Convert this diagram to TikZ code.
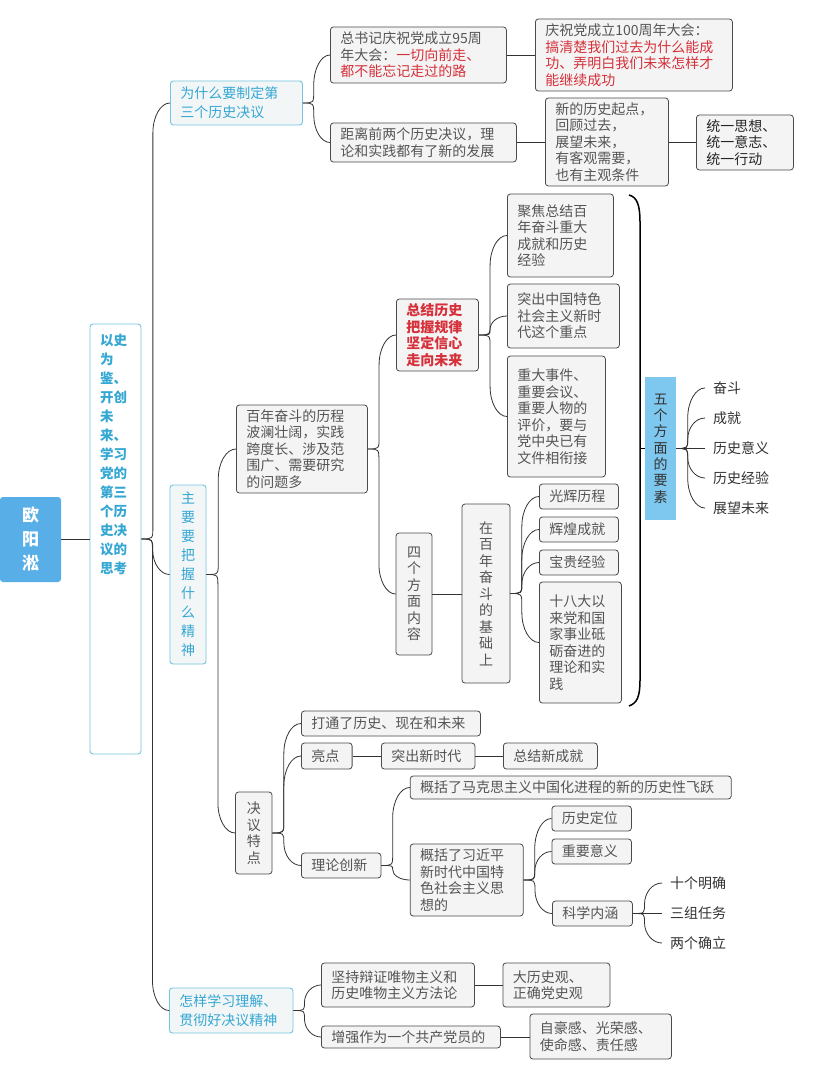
\documentclass[tikz,border=0pt]{standalone}
\usepackage{fontspec}
\setmainfont{Noto Sans CJK SC}
\usetikzlibrary{calc}
\definecolor{gborder}{HTML}{4A4A4A}
\definecolor{gfill}{HTML}{F4F4F4}
\definecolor{gtext}{HTML}{555555}
\definecolor{redC}{HTML}{D6303A}
\definecolor{tborder}{HTML}{74C6E0}
\definecolor{tfill}{HTML}{F3F6F7}
\definecolor{ttext}{HTML}{35A7D3}
\definecolor{rootC}{HTML}{58AEE6}
\definecolor{fiveC}{HTML}{7EC7EF}
\definecolor{lineC}{HTML}{333333}
\definecolor{leafC}{HTML}{333333}
\tikzset{
 conn/.style={draw=lineC, line width=0.8pt},
 cn/.style={to path={let \p1=(\tikztostart), \p2=(\tikztotarget),
   \n1={((\y2)-(\y1))*min(0.3,12/abs((\y2)-(\y1)))},
   \n3={((\y2)-(\y1))*min(0.7,30/abs((\y2)-(\y1)))},
   \n2={(\x1)+0.4*((\x2)-(\x1))} in
   (\p1) .. controls ({\n2},{\y1}) .. ({\n2},{(\y1)+(\n1)}) -- ({\n2},{(\y2)-(\n3)})
   .. controls ({\n2},{(\y2)-0.45*(\n3)}) and ({(\n2)+0.45*((\x2)-(\n2))},{\y2}) .. (\p2)}},
 gb/.style={draw=gborder, fill=gfill, rounded corners=3pt, line width=0.8pt, text=gtext, align=left, inner xsep=10pt, inner ysep=0pt, anchor=west, font=\fontsize{14}{16.5}\selectfont},
 tb/.style={draw=tborder, fill=tfill, rounded corners=3pt, line width=0.9pt, text=ttext, align=left, inner xsep=10pt, inner ysep=0pt, anchor=west, font=\fontsize{14}{19}\selectfont},
 vb/.style={draw=gborder, fill=gfill, rounded corners=3pt, line width=0.8pt, text=gtext, align=center, inner sep=0pt, font=\fontsize{14}{16.5}\selectfont},
 leaf/.style={anchor=west, inner xsep=8pt, inner ysep=0pt, text=leafC, font=\fontsize{14}{16}\selectfont},
}
\begin{document}
\begin{tikzpicture}[x=1pt,y=-1pt]
\useasboundingbox (0,0) rectangle (821,1089);
\fill[white] (0,0) rectangle (821,1089);

% root and main topic
\node[fill=rootC, rounded corners=3pt, text=white, align=center, inner sep=0pt, minimum width=61pt, minimum height=85pt, font=\fontsize{17}{24}\selectfont\bfseries] (root) at (30.5,539.5) {欧\\阳\\淞};
\node[draw=tborder, fill=white, rounded corners=3pt, line width=0.9pt, text=ttext, inner xsep=10pt, inner ysep=10pt] (main) at (115.5,539)
 {\parbox[c][410pt][t]{31pt}{\fontsize{13.5}{19}\selectfont\bfseries 以史\\为\\鉴、\\开创\\未\\来、\\学习\\党的\\第三\\个历\\史决\\议的\\思考}};

% branch 1
\node[tb, text width=112pt, minimum height=44pt] (w1) at (170,103) {为什么要制定第\\三个历史决议};
\node[gb, text width=156pt, minimum height=56pt] (a1) at (330,55) {总书记庆祝党成立95周\\年大会：\textcolor{redC}{一切向前走、}\\\textcolor{redC}{都不能忘记走过的路}};
\node[gb, text width=166pt, minimum height=39pt] (a2) at (330,142.5) {距离前两个历史决议，理\\论和实践都有了新的发展};
\node[gb, text width=177pt, minimum height=72pt] (a11) at (535,55) {庆祝党成立100周年大会：\\\textcolor{redC}{搞清楚我们过去为什么能成}\\\textcolor{redC}{功、弄明白我们未来怎样才}\\\textcolor{redC}{能继续成功}};
\node[gb, text width=103pt, minimum height=88pt] (a21) at (545,142) {新的历史起点，\\回顾过去，\\展望未来，\\有客观需要，\\也有主观条件};
\node[gb, text width=77pt, minimum height=55pt, text=black!85] (a22) at (696,142.5) {统一思想、\\统一意志、\\统一行动};

% branch 2
\node[tb, align=center, anchor=center, inner sep=0pt, minimum width=36pt, minimum height=179pt] (w2) at (188,574.5) {主\\要\\要\\把\\握\\什\\么\\精\\神};
\node[gb, text width=111pt, minimum height=88pt] (b1) at (236,449) {百年奋斗的历程\\波澜壮阔，实践\\跨度长、涉及范\\围广、需要研究\\的问题多};
\node[gb, text width=62pt, minimum height=72pt, text=redC, font=\fontsize{14}{16.5}\selectfont\bfseries] (b11) at (396,335) {总结历史\\把握规律\\坚定信心\\走向未来};
\node[gb, text width=86pt, minimum height=83pt] (c1) at (507,235.5) {聚焦总结百\\年奋斗重大\\成就和历史\\经验};
\node[gb, text width=92pt, minimum height=64pt] (c2) at (507,316) {突出中国特色\\社会主义新时\\代这个重点};
\node[gb, text width=78pt, minimum height=121pt] (c3) at (507,416.5) {重大事件、\\重要会议、\\重要人物的\\评价，要与\\党中央已有\\文件相衔接};
\node[vb, minimum width=36pt, minimum height=122pt] (b12) at (414,594) {四\\个\\方\\面\\内\\容};
\node[vb, minimum width=48pt, minimum height=179pt] (d1) at (486,593.5) {在\\百\\年\\奋\\斗\\的\\基\\础\\上};
\node[gb, text width=59pt, minimum height=25pt] (e1) at (539,496.5) {光辉历程};
\node[gb, text width=59pt, minimum height=25pt] (e2) at (539,529.5) {辉煌成就};
\node[gb, text width=59pt, minimum height=25pt] (e3) at (539,562.5) {宝贵经验};
\node[gb, text width=62pt, minimum height=121pt] (e4) at (539,642.5) {十八大以\\来党和国\\家事业砥\\砺奋进的\\理论和实\\践};

% bracket and five elements
\coordinate (brk) at (640,448.5);
\node[fill=fiveC, text=leafC, align=center, inner sep=0pt, minimum width=31pt, minimum height=143pt, font=\fontsize{14}{16.3}\selectfont] (fv) at (660.5,448.5) {五\\个\\方\\面\\的\\要\\素};
\draw[line width=1.5pt, black] (629,195) .. controls (637,197) and (640,205) .. (640,222) -- (640,680) .. controls (640,697) and (637,703) .. (629,706);
\draw[line width=1.5pt, black] (brk) -- (fv.west);
\node[leaf] (f1) at (705,388) {奋斗};
\node[leaf] (f2) at (705,418) {成就};
\node[leaf] (f3) at (705,448.5) {历史意义};
\node[leaf] (f4) at (705,478) {历史经验};
\node[leaf] (f5) at (705,508) {展望未来};

% decision features
\node[vb, minimum width=36.5pt, minimum height=82pt] (b2) at (253.75,833) {决\\议\\特\\点};
\node[gb, text width=159pt, minimum height=25pt] (g1) at (301,723.5) {打通了历史、现在和未来};
\node[gb, text width=30.7pt, minimum height=26pt] (g2) at (301,756) {亮点};
\node[gb, text width=73.5pt, minimum height=26pt] (g21) at (381,756) {突出新时代};
\node[gb, text width=74pt, minimum height=26pt] (g22) at (503,756) {总结新成就};
\node[gb, text width=59.5pt, minimum height=25pt] (g3) at (301,865.5) {理论创新};
\node[gb, text width=301pt, minimum height=23pt] (h1) at (409.8,787.5) {概括了马克思主义中国化进程的新的历史性飞跃};
\node[gb, text width=93pt, minimum height=72pt] (h2) at (409.8,880) {概括了习近平\\新时代中国特\\色社会主义思\\想的};
\node[gb, text width=59.5pt, minimum height=25pt] (i1) at (551.5,818.5) {历史定位};
\node[gb, text width=59.5pt, minimum height=25pt] (i2) at (551.5,851.5) {重要意义};
\node[gb, text width=60pt, minimum height=25pt] (i3) at (552,913.5) {科学内涵};
\node[leaf] (j1) at (662,883) {十个明确};
\node[leaf] (j2) at (662,913.5) {三组任务};
\node[leaf] (j3) at (662,943) {两个确立};

% branch 3
\node[tb, text width=103.5pt, minimum height=45pt] (w3) at (169,1010.5) {怎样学习理解、\\贯彻好决议精神};
\node[gb, text width=133pt, minimum height=44pt] (k1) at (321,985) {坚持辩证唯物主义和\\历史唯物主义方法论};
\node[gb, text width=87pt, minimum height=44pt] (k11) at (502.5,985) {大历史观、\\正确党史观};
\node[gb, text width=159pt, minimum height=22pt] (k2) at (321,1037) {增强作为一个共产党员的};
\node[gb, text width=121.5pt, minimum height=45pt] (k21) at (529.5,1036.5) {自豪感、光荣感、\\使命感、责任感};

% connectors
\begin{scope}[conn]
\draw (root.east) -- (root.east -| main.west);
\draw (main.east) to[cn] (w1.west);
\draw (main.east) to[cn] (w2.west);
\draw (main.east) to[cn] (w3.west);
\draw (w1.east) to[cn] (a1.west);
\draw (w1.east) to[cn] (a2.west);
\draw (a1.east) -- (a1.east -| a11.west);
\draw (a2.east) -- (a2.east -| a21.west);
\draw (a21.east) -- (a21.east -| a22.west);
\draw (w2.east) to[cn] (b1.west);
\draw (w2.east) to[cn] (b2.west);
\draw (b1.east) to[cn] (b11.west);
\draw (b1.east) to[cn] (b12.west);
\draw (b11.east) to[cn] (c1.west);
\draw (b11.east) to[cn] (c2.west);
\draw (b11.east) to[cn] (c3.west);
\draw (b12.east) -- (b12.east -| d1.west);
\draw (d1.east) to[cn] (e1.west);
\draw (d1.east) to[cn] (e2.west);
\draw (d1.east) to[cn] (e3.west);
\draw (d1.east) to[cn] (e4.west);
\draw (fv.east) to[cn] (f1.west);
\draw (fv.east) to[cn] (f2.west);
\draw (fv.east) -- (f3.west);
\draw (fv.east) to[cn] (f4.west);
\draw (fv.east) to[cn] (f5.west);
\draw (b2.east) to[cn] (g1.west);
\draw (b2.east) to[cn] (g2.west);
\draw (b2.east) to[cn] (g3.west);
\draw (g2.east) -- (g2.east -| g21.west);
\draw (g21.east) -- (g21.east -| g22.west);
\draw (g3.east) to[cn] (h1.west);
\draw (g3.east) to[cn] (h2.west);
\draw (h2.east) to[cn] (i1.west);
\draw (h2.east) to[cn] (i2.west);
\draw (h2.east) to[cn] (i3.west);
\draw (i3.east) to[cn] (j1.west);
\draw (i3.east) -- (j2.west);
\draw (i3.east) to[cn] (j3.west);
\draw (w3.east) to[cn] (k1.west);
\draw (w3.east) to[cn] (k2.west);
\draw (k1.east) -- (k1.east -| k11.west);
\draw (k2.east) -- (k2.east -| k21.west);
\end{scope}
\end{tikzpicture}
\end{document}
